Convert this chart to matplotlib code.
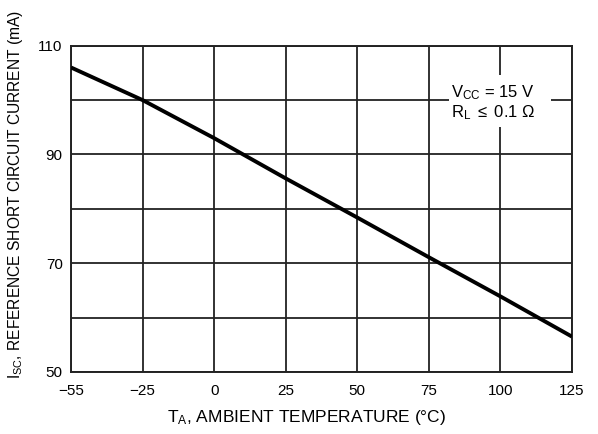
import numpy as np
import matplotlib
matplotlib.use("Agg")
import matplotlib.pyplot as plt

# short-circuit current vs. ambient temperature
temps = [-55, -25, 0, 25, 50, 75, 100, 125]
isc_ma = [106, 100, 93, 85.6, 78.4, 71.1, 63.9, 56.5]

x_ticks = [-55, -25, 0, 25, 50, 75, 100, 125]
y_ticks = [50, 60, 70, 80, 90, 100, 110]
y_labels = ["50", "", "70", "", "90", "", "110"]

plt.rcParams["font.family"] = ["Liberation Sans Narrow", "Liberation Sans", "DejaVu Sans"]
plt.rcParams["mathtext.fontset"] = "custom"
plt.rcParams["mathtext.rm"] = "Liberation Sans"
plt.rcParams["mathtext.it"] = "Liberation Sans"

# the temperature grid is evenly spaced even though the first step is 30 degC
grid_pos = np.arange(len(x_ticks), dtype=float)


def fwd(t):
    return np.interp(t, x_ticks, grid_pos, left=-np.inf, right=np.inf)


def inv(p):
    return np.interp(p, grid_pos, x_ticks)


fig = plt.figure(figsize=(5.98, 4.34), dpi=100)
ax = fig.add_axes([0.1187, 0.1429, 0.8378, 0.7518])

ax.set_xscale("function", functions=(fwd, inv))
ax.set_xlim(-55, 125)
ax.set_ylim(50, 110)
ax.set_xticks(x_ticks)
ax.set_xticklabels([str(t).replace("-", "\u2212") for t in x_ticks])
ax.set_yticks(y_ticks)
ax.set_yticklabels(y_labels)
ax.tick_params(length=0, labelsize=11)
ax.tick_params(axis="x", pad=9)
ax.tick_params(axis="y", pad=6)

ax.grid(True, color="#222222", linewidth=1.3)
ax.set_axisbelow(True)
for s in ax.spines.values():
    s.set_linewidth(1.4)
    s.set_color("#222222")

ax.plot(temps, isc_ma, color="black", linewidth=2.8, solid_capstyle="butt", zorder=3)

# test conditions, on a white patch that breaks the grid
ax.axvspan(82, 117.5, ymin=(95.0 - 50) / 60, ymax=(104.6 - 50) / 60,
           color="white", zorder=2.5, linewidth=0)
ax.text(97.5, 101.3, r"V$_{\rm CC}$ = 15 V", ha="center", va="center", fontsize=12,
        zorder=4)
ax.text(97.5, 97.7, r"R$_{\rm L}$ $\leq$ 0.1 $\Omega$", ha="center", va="center",
        fontsize=12, zorder=4)

ax.set_xlabel(r"T$_{\rm A}$, AMBIENT TEMPERATURE (°C)", fontsize=12.5)
ax.xaxis.set_label_coords(0.471, -0.11)
ax.set_ylabel(r"I$_{\rm SC}$, REFERENCE SHORT CIRCUIT CURRENT (mA)", fontsize=11.2)
ax.yaxis.set_label_coords(-0.092, 0.545)

fig.savefig("out.png", dpi=100)
